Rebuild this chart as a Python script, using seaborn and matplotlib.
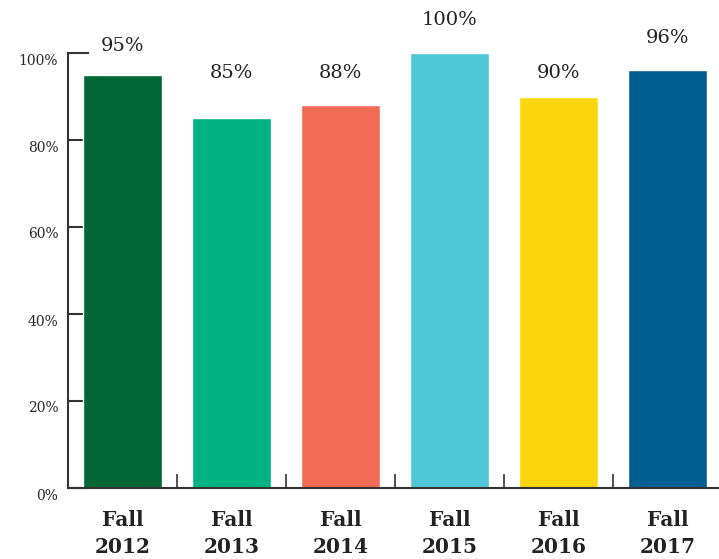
import numpy as np
import pandas as pd
import matplotlib
matplotlib.use("Agg")
import matplotlib.pyplot as plt
import matplotlib.transforms as mtransforms
import seaborn as sns

# data
terms = ["Fall\n2012", "Fall\n2013", "Fall\n2014", "Fall\n2015", "Fall\n2016", "Fall\n2017"]
rates = [95, 85, 88, 100, 90, 96]
bar_colors = ["#006633", "#00b482", "#f26c55", "#4fc7d6", "#fbd60f", "#005f90"]
y_ticks = [0, 20, 40, 60, 80, 100]

# where the value labels sit (data units), as in the original
label_y = [101.6, 95.4, 95.4, 107.6, 95.4, 103.4]

sns.set_style("white")
plt.rcParams["font.family"] = ["DejaVu Serif"]

df = pd.DataFrame({"term": terms, "rate": rates})

fig = plt.figure(figsize=(7.19, 5.59), dpi=100)
ax = fig.add_axes([68 / 719, 71 / 559, 654 / 719, 435 / 559])

sns.barplot(data=df, x="term", y="rate", hue="term", palette=bar_colors,
            legend=False, width=0.725, saturation=1, ax=ax)

for i, (v, ly) in enumerate(zip(rates, label_y)):
    ax.text(i, ly, f"{v}%", ha="center", va="center", fontsize=14,
            color="#222222", clip_on=False)

ax.set_xlim(-0.5, 5.5)
ax.set_ylim(0, 100)
ax.set_xlabel("")
ax.set_ylabel("")

ax.set_yticks(y_ticks)
ax.set_yticklabels([f"{t}%" for t in y_ticks], fontsize=10, color="#2a2a2a")
ax.tick_params(axis="y", direction="in", length=15, width=1.5,
               color="#333333", pad=7, left=True)
# tick labels sit a little below their ticks in the original
shift = mtransforms.ScaledTranslation(0, -6 / 100, fig.dpi_scale_trans)
for lab in ax.get_yticklabels():
    lab.set_transform(lab.get_transform() + shift)

ax.set_xticks(range(len(terms)))
ax.set_xticklabels(terms, fontsize=14.5, fontweight="bold", color="#222222",
                   linespacing=1.4)
ax.tick_params(axis="x", which="major", length=0, pad=16)
ax.set_xticks(np.arange(0.5, 6, 1), minor=True)
ax.tick_params(axis="x", which="minor", direction="in", length=10, width=1.2,
               color="#333333", bottom=True)

sns.despine(ax=ax, top=True, right=True)
for side in ["left", "bottom"]:
    ax.spines[side].set_color("#333333")
    ax.spines[side].set_linewidth(1.5)
ax.grid(False)

fig.savefig("out.png", dpi=100)
